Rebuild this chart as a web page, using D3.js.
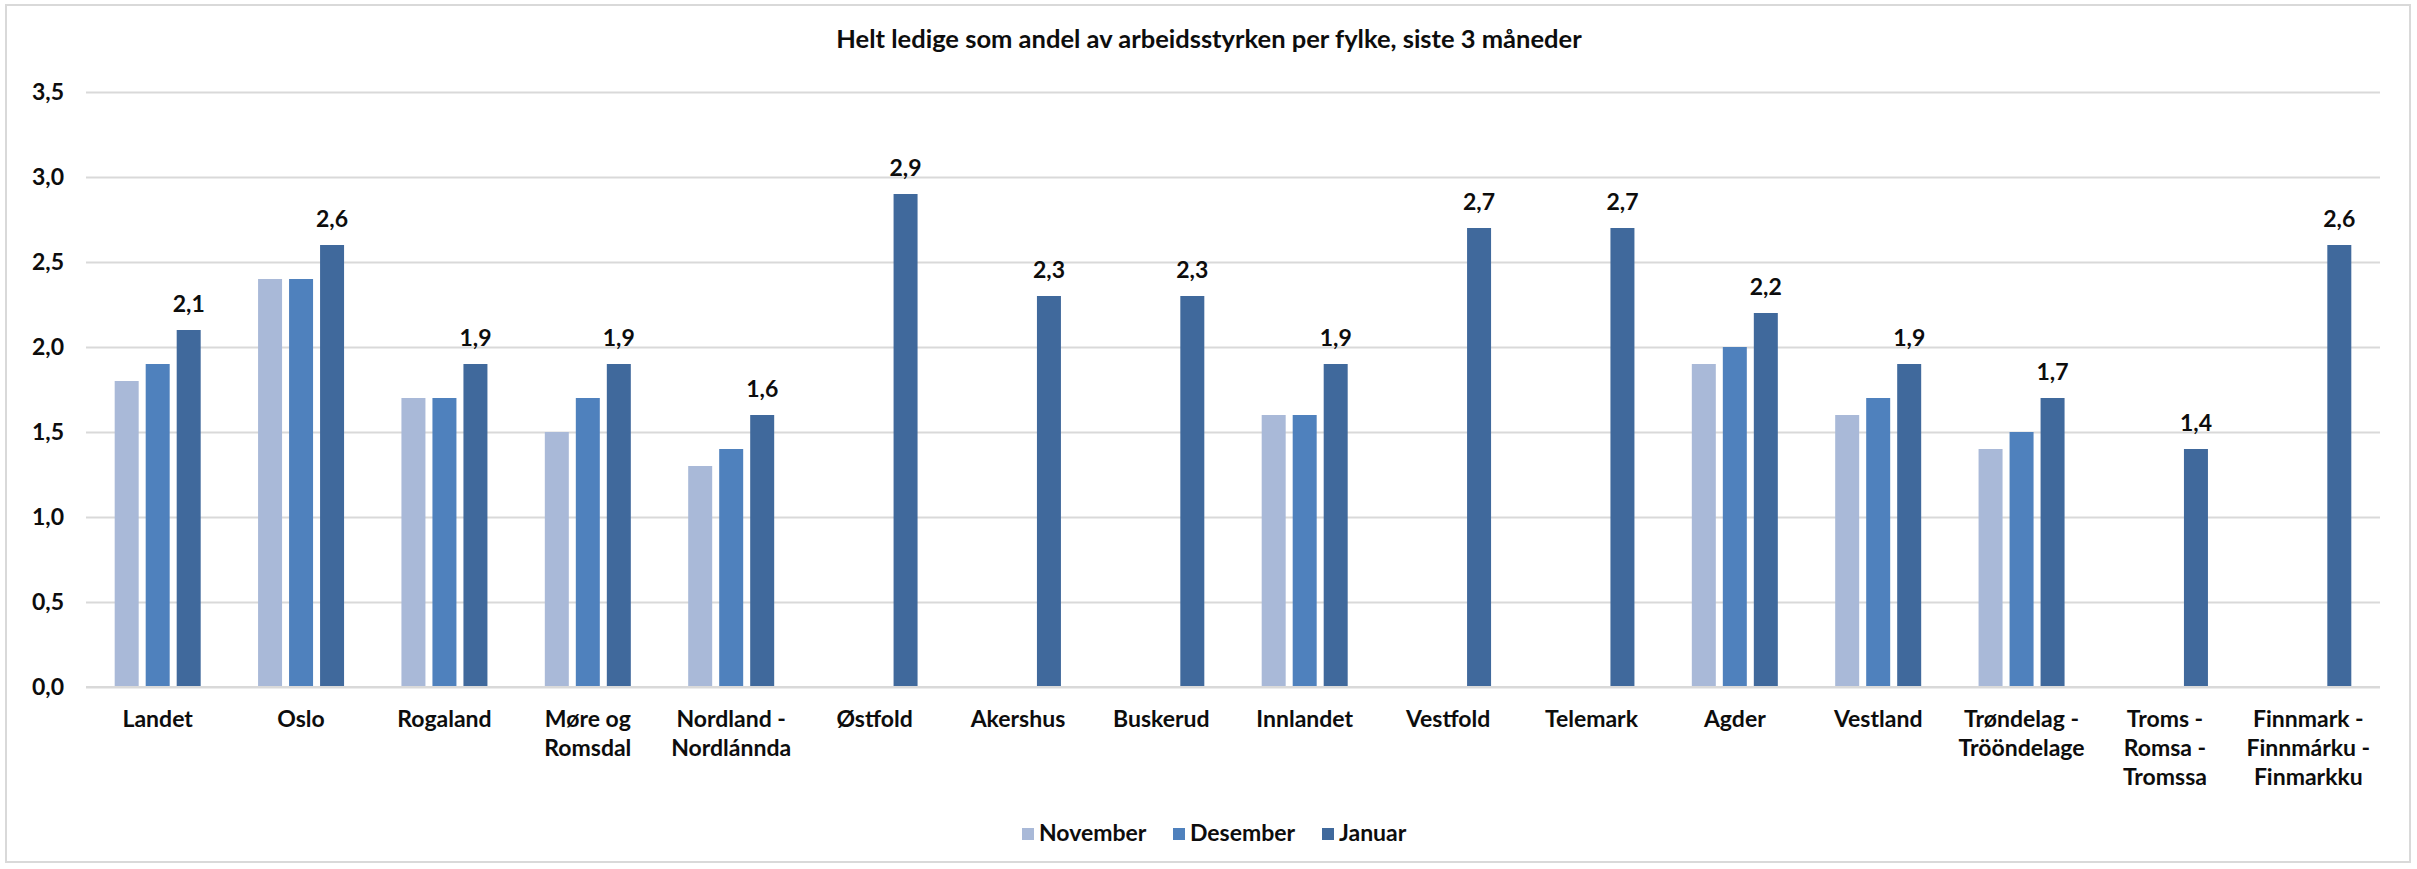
<!DOCTYPE html>
<html lang="no">
<head>
<meta charset="utf-8">
<title>Helt ledige per fylke</title>
<script src="https://cdn.jsdelivr.net/npm/d3@7"></script>
<style>
  body { margin: 0; background: #fff; }
  text { font-family: Lato, "Open Sans", sans-serif; font-weight: bold; fill: #0d0d0d; }
</style>
</head>
<body>
<script>
// categories (line breaks as in the original labels)
var fylker = [
  ["Landet"], ["Oslo"], ["Rogaland"], ["Møre og", "Romsdal"], ["Nordland -", "Nordlánnda"],
  ["Østfold"], ["Akershus"], ["Buskerud"], ["Innlandet"], ["Vestfold"], ["Telemark"],
  ["Agder"], ["Vestland"], ["Trøndelag -", "Trööndelage"], ["Troms -", "Romsa -", "Tromssa"],
  ["Finnmark -", "Finnmárku -", "Finmarkku"]
];
var months = ["November", "Desember", "Januar"];
var november = [1.8, 2.4, 1.7, 1.5, 1.3, null, null, null, 1.6, null, null, 1.9, 1.6, 1.4, null, null];
var desember = [1.9, 2.4, 1.7, 1.7, 1.4, null, null, null, 1.6, null, null, 2.0, 1.7, 1.5, null, null];
var januar   = [2.1, 2.6, 1.9, 1.9, 1.6, 2.9, 2.3, 2.3, 1.9, 2.7, 2.7, 2.2, 1.9, 1.7, 1.4, 2.6];
var yTicks = [0, 0.5, 1, 1.5, 2, 2.5, 3, 3.5];
var colors = ["#a9b9d8", "#4f81bd", "#40699c"];
var title = "Helt ledige som andel av arbeidsstyrken per fylke, siste 3 måneder";

var W = 2417, H = 869;
var plot = {left: 86, right: 2380, top: 92, bottom: 687};
var series = [november, desember, januar];
var fs = 23;
var fmt = function(v) { return v.toFixed(1).replace(".", ","); };

var svg = d3.select("body").append("svg")
    .attr("width", W)
    .attr("height", H);

// chart frame
svg.append("rect")
    .attr("x", 6).attr("y", 5)
    .attr("width", 2404).attr("height", 857)
    .attr("fill", "#fff")
    .attr("stroke", "#d9d9d9")
    .attr("stroke-width", 2);

svg.append("text")
    .attr("x", 1209).attr("y", 48)
    .attr("text-anchor", "middle")
    .attr("font-size", 25.5)
    .text(title);

var x = d3.scaleBand()
    .domain(d3.range(fylker.length))
    .range([plot.left, plot.right])
    .padding(0);

var xs = d3.scaleBand()
    .domain(d3.range(months.length))
    .range([-43, 43])
    .paddingInner(0.226)
    .paddingOuter(0);

var y = d3.scaleLinear()
    .domain([0, 3.5])
    .range([plot.bottom, plot.top]);

// gridlines + y labels
var yAxis = d3.axisLeft(y)
    .tickValues(yTicks)
    .tickSize(-(plot.right - plot.left))
    .tickPadding(22)
    .tickFormat(fmt);

var gy = svg.append("g")
    .attr("transform", "translate(" + plot.left + ",0)")
    .call(yAxis);
gy.select(".domain").remove();
gy.selectAll(".tick line").attr("stroke", "#d9d9d9").attr("stroke-width", 2);
gy.selectAll(".tick text")
    .attr("font-size", fs)
    .attr("font-family", null)
    .attr("fill", null);

// bars
var groups = svg.append("g").selectAll("g")
    .data(fylker)
    .enter().append("g")
    .attr("transform", function(d, i) { return "translate(" + (x(i) + x.bandwidth() / 2) + ",0)"; });

groups.each(function(d, i) {
  var g = d3.select(this);
  series.forEach(function(s, k) {
    if (s[i] == null) return;
    g.append("rect")
        .attr("x", xs(k))
        .attr("y", y(s[i]))
        .attr("width", xs.bandwidth())
        .attr("height", y(0) - y(s[i]))
        .attr("fill", colors[k]);
  });
  // value label on Januar only
  g.append("text")
      .attr("x", xs(2) + xs.bandwidth() / 2)
      .attr("y", y(januar[i]) - 18)
      .attr("text-anchor", "middle")
      .attr("font-size", fs)
      .text(fmt(januar[i]));
  // category label
  var t = g.append("text")
      .attr("text-anchor", "middle")
      .attr("font-size", fs);
  d.forEach(function(line, j) {
    t.append("tspan")
        .attr("x", 0)
        .attr("y", 727 + j * 29)
        .text(line);
  });
});

// zero line
svg.append("line")
    .attr("x1", plot.left).attr("x2", plot.right)
    .attr("y1", y(0)).attr("y2", y(0))
    .attr("stroke", "#d9d9d9")
    .attr("stroke-width", 2);

// legend
var legX = [1022, 1173, 1322];
var leg = svg.append("g").selectAll("g")
    .data(months)
    .enter().append("g")
    .attr("transform", function(d, i) { return "translate(" + legX[i] + ",828)"; });
leg.append("rect")
    .attr("width", 12).attr("height", 12)
    .attr("fill", function(d, i) { return colors[i]; });
leg.append("text")
    .attr("x", 17).attr("y", 13)
    .attr("font-size", fs)
    .text(function(d) { return d; });
</script>
</body>
</html>
